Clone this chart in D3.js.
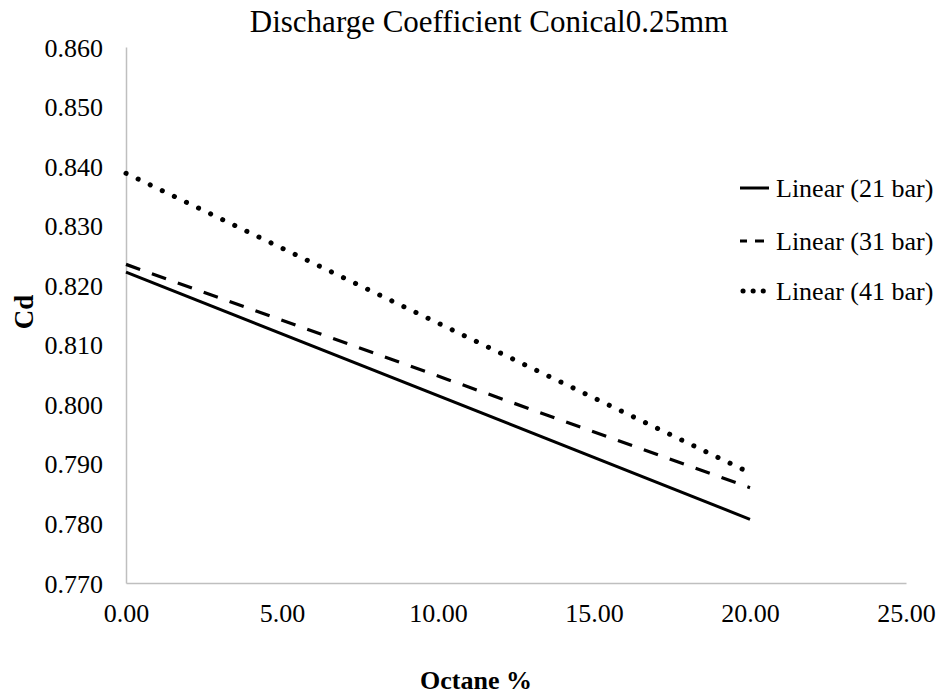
<!DOCTYPE html>
<html>
<head>
<meta charset="utf-8">
<script src="https://cdn.jsdelivr.net/npm/d3@7"></script>
</head>
<body style="margin:0;background:#fff">
<svg id="chart" width="942" height="698"></svg>
<script>
const seriesNames = ["Linear (21 bar)", "Linear (31 bar)", "Linear (41 bar)"];
const xEnds = [0, 20];
const cd21 = [0.8222, 0.7807];
const cd31 = [0.8235, 0.7860];
const cd41 = [0.8388, 0.7885];
const xTicks = [0, 5, 10, 15, 20, 25];
const yTicks = [0.77, 0.78, 0.79, 0.80, 0.81, 0.82, 0.83, 0.84, 0.85, 0.86];

const FONT = '"Liberation Serif", "Times New Roman", serif';
const svg = d3.select("#chart");
const margin = { left: 126, right: 36, top: 47, bottom: 115 };
const W = 942, H = 698;
const x = d3.scaleLinear().domain([0, 25]).range([margin.left, W - margin.right]);
const y = d3.scaleLinear().domain([0.77, 0.86]).range([H - margin.bottom, margin.top]);

// axes
const xAxis = svg.append("g").attr("transform", `translate(0,${y(0.77)})`)
  .call(d3.axisBottom(x).tickValues(xTicks).tickFormat(d3.format(".2f")).tickSize(0).tickPadding(0));
const yAxis = svg.append("g").attr("transform", `translate(${x(0)},0)`)
  .call(d3.axisLeft(y).tickValues(yTicks).tickFormat(d3.format(".3f")).tickSize(0).tickPadding(23));
[xAxis, yAxis].forEach(g => {
  g.select(".domain").attr("stroke", "#bfbfbf").attr("stroke-width", 1.5);
  g.selectAll("text").style("font-family", FONT).style("font-size", "26px").attr("fill", "#000");
});
yAxis.selectAll("text").attr("dy", "0.35em");
xAxis.selectAll("text").attr("y", 39).attr("dy", 0);

// series
const series = [
  { name: seriesNames[0], vals: cd21, dash: null, width: 3, cap: "butt" },
  { name: seriesNames[1], vals: cd31, dash: "15,12.5", width: 3.2, cap: "butt" },
  { name: seriesNames[2], vals: cd41, dash: "0.1,13.3", width: 5, cap: "round" }
];
const line = d3.line().x(d => x(d[0])).y(d => y(d[1]));
series.forEach(s => {
  svg.append("path")
    .attr("d", line(xEnds.map((xv, i) => [xv, s.vals[i]])))
    .attr("fill", "none").attr("stroke", "#000")
    .attr("stroke-width", s.width).attr("stroke-linecap", s.cap)
    .attr("stroke-dasharray", s.dash);
});

// legend
const legY = [188, 241, 291];
series.forEach((s, i) => {
  svg.append("line")
    .attr("x1", s.cap === "round" ? 743 : 740).attr("x2", 769)
    .attr("y1", legY[i]).attr("y2", legY[i])
    .attr("stroke", "#000").attr("stroke-width", s.width)
    .attr("stroke-linecap", s.cap)
    .attr("stroke-dasharray", s.dash ? (s.cap === "round" ? "0.1,10" : "9,8") : null)
    .attr("stroke-dashoffset", s.cap === "round" ? 0 : 2);
  svg.append("text").attr("x", 776).attr("y", legY[i]).attr("dy", "0.35em")
    .style("font-family", FONT).style("font-size", "26px").text(s.name);
});

// titles
svg.append("text").attr("x", 489).attr("y", 32).attr("text-anchor", "middle")
  .style("font-family", FONT).style("font-size", "31px").text("Discharge Coefficient Conical0.25mm");
svg.append("text").attr("x", 476).attr("y", 689).attr("text-anchor", "middle")
  .style("font-family", FONT).style("font-size", "26px").style("font-weight", "bold").text("Octane %");
svg.append("text").attr("transform", `translate(33,312) rotate(-90)`)
  .attr("text-anchor", "middle")
  .style("font-family", FONT).style("font-size", "27px").style("font-weight", "bold").text("Cd");
</script>
</body>
</html>
